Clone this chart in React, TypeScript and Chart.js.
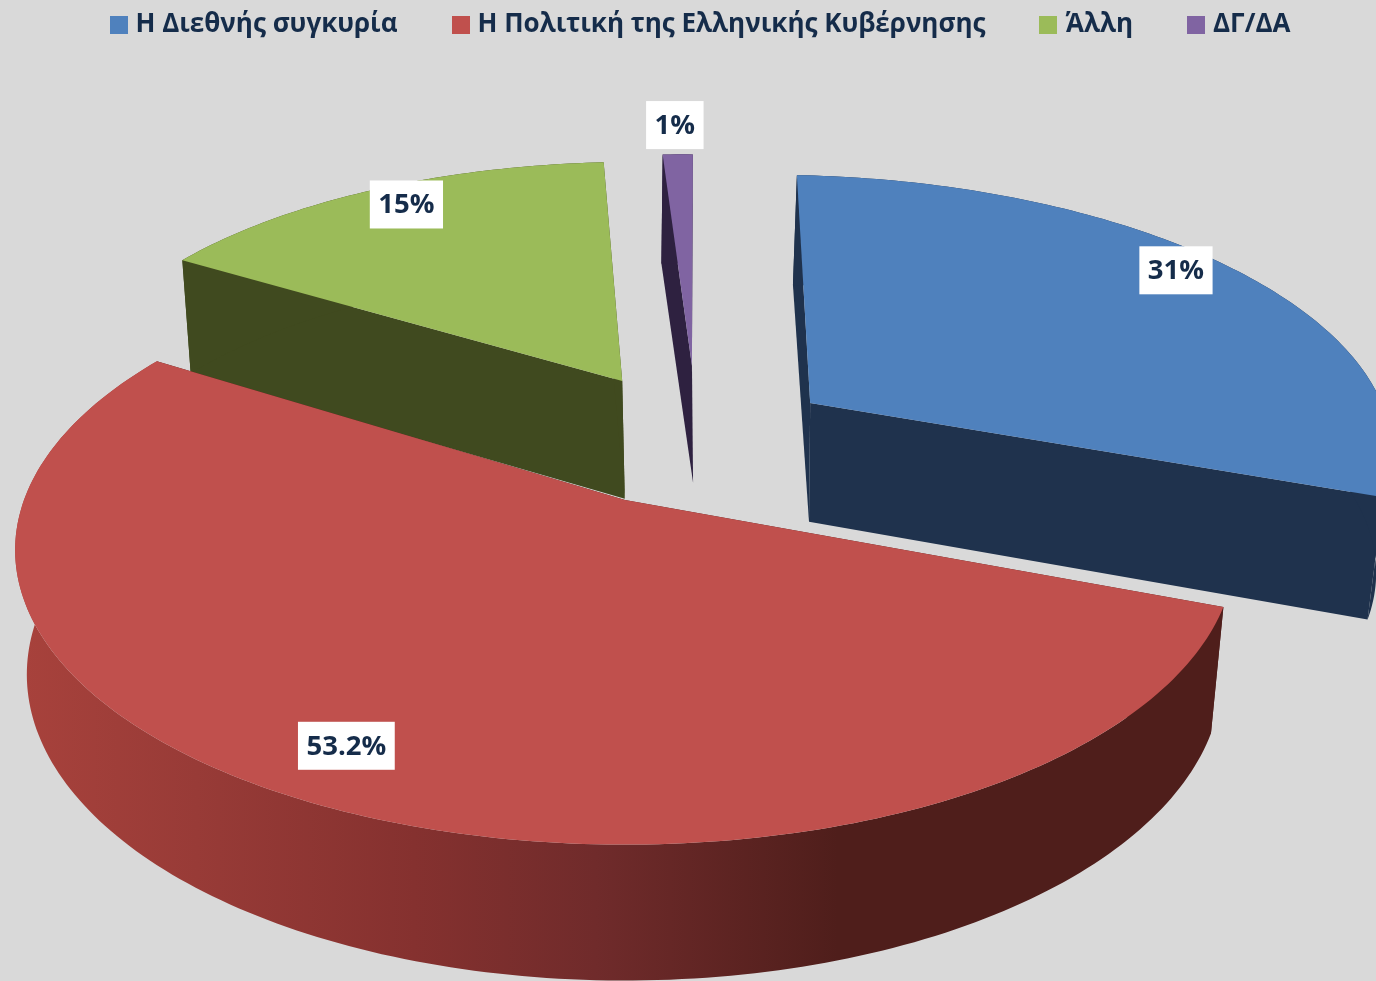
import React, { useEffect, useRef } from "react";
import { Chart, registerables } from "chart.js";

Chart.register(...registerables);

const categories = ["Η Διεθνής συγκυρία", "Η Πολιτική της Ελληνικής Κυβέρνησης", "Άλλη", "ΔΓ/ΔΑ"];
const shares = [31, 53.2, 15, 1];
const shareLabels = ["31%", "53.2%", "15%", "1%"];
const topColors = ["#4f81bd", "#c0504d", "#9bbb59", "#8064a2"];
const wallColors = ["#1f324d", "#4f1e1b", "#404a1f", "#2e2140"];

// 3D look: each slice's pull-out in disk units, small corrections, and its label's polar spot
const pullU = [0.327, 0, -0.005, 0.121];
const pullV = [-0.36, 0, -0.448, -0.511];
const radiusAtStart = [1.048, 1, 1.005, 1.01];
const radiusAtEnd = [1.0, 1, 1.03, 1.01];
const startNudgeDeg = [1, -1.3, -1.2, 0.7];
const endNudgeDeg = [-1.4, -1.1, 0.9, 0.7];
const labelRadius = [0.93, 0.852, 0.916, 1.176];
const labelTurnDeg = [-4, 0.9, 1.6, 0.6];
const paintOrder = [0, 3, 2, 1];

const TEXT = "#152c4a";
const BG = "#d9d9d9";
const FONT = "'Open Sans', sans-serif";
const DEG = Math.PI / 180;

// perspective camera
const CAM = { x: 625, y: 500, rx: 601, ry: 286, p: 0.17 };
const project = (u: number, v: number) => {
  const w = 1 - CAM.p * v;
  return { x: CAM.x + (CAM.rx * u) / w, y: CAM.y + (CAM.ry * v) / w };
};
const lower = (pt: { x: number; y: number }, shiftX = 0) => ({
  x: 600 + (pt.x - 600) * 0.98 + shiftX,
  y: pt.y * 1.039 + 103,
});

const swatch = (color: string) => {
  const c = document.createElement("canvas");
  c.width = 18;
  c.height = 18;
  const g = c.getContext("2d")!;
  g.fillStyle = color;
  g.fillRect(0, 0, 18, 18);
  return c;
};

const pie3d = {
  id: "pie3d",
  beforeDatasetsDraw(chart: any) {
    const { ctx } = chart;
    const arcs = chart.getDatasetMeta(0).data;
    ctx.save();
    for (const i of paintOrder) {
      const props = arcs[i].getProps(["startAngle", "endAngle"], true);
      const startAngle = props.startAngle + startNudgeDeg[i] * DEG;
      const endAngle = props.endAngle + endNudgeDeg[i] * DEG;
      const apex = project(pullU[i], pullV[i]);
      const apexLow = lower(apex, 3);
      const rim: { x: number; y: number }[] = [];
      const steps = Math.max(4, Math.ceil((endAngle - startAngle) / DEG));
      for (let s = 0; s <= steps; s++) {
        const t = s / steps;
        const a = startAngle + (endAngle - startAngle) * t;
        const r = radiusAtStart[i] + (radiusAtEnd[i] - radiusAtStart[i]) * t;
        rim.push(project(pullU[i] + r * Math.cos(a), pullV[i] + r * Math.sin(a)));
      }
      const poly = (pts: { x: number; y: number }[], fill: any) => {
        ctx.beginPath();
        pts.forEach((p, k) => (k ? ctx.lineTo(p.x, p.y) : ctx.moveTo(p.x, p.y)));
        ctx.closePath();
        ctx.fillStyle = fill;
        ctx.fill();
      };
      // walls
      let wall: any = wallColors[i];
      if (i === 1) {
        const g = ctx.createLinearGradient(15, 0, 1225, 0);
        g.addColorStop(0, "#a8423c");
        g.addColorStop(0.15, "#983b37");
        g.addColorStop(0.33, "#85312f");
        g.addColorStop(0.48, "#702b2b");
        g.addColorStop(0.68, "#4f1e1b");
        g.addColorStop(1, "#4f1e1b");
        wall = g;
      }
      poly([apex, rim[0], lower(rim[0]), apexLow], wallColors[i]);
      poly([apex, rim[rim.length - 1], lower(rim[rim.length - 1]), apexLow], wallColors[i]);
      poly([...rim, ...rim.map((p) => lower(p)).reverse()], wall);
      // top
      poly([apex, ...rim], topColors[i]);
    }
    // value boxes
    ctx.font = `bold 27.5px ${FONT}`;
    ctx.textAlign = "center";
    ctx.textBaseline = "middle";
    arcs.forEach((arc: any, i: number) => {
      const { startAngle, endAngle } = arc.getProps(["startAngle", "endAngle"], true);
      const a = (startAngle + endAngle) / 2 + labelTurnDeg[i] * DEG;
      const c = project(pullU[i] + labelRadius[i] * Math.cos(a), pullV[i] + labelRadius[i] * Math.sin(a));
      const w = ctx.measureText(shareLabels[i]).width + 17;
      ctx.fillStyle = "#ffffff";
      ctx.fillRect(c.x - w / 2, c.y - 24, w, 48);
      ctx.fillStyle = TEXT;
      ctx.fillText(shareLabels[i], c.x, c.y + 1);
    });
    ctx.restore();
    return false;
  },
};

export default function App() {
  const ref = useRef<HTMLCanvasElement>(null);
  useEffect(() => {
    document.body.style.margin = "0";
    document.body.style.background = BG;
    document.documentElement.style.overflow = "hidden";
    const swatches = topColors.map(swatch);
    const baseLabels = (Chart as any).overrides.pie.plugins.legend.labels.generateLabels;
    const chart = new Chart(ref.current!, {
      type: "pie",
      data: {
        labels: categories,
        datasets: [{ data: shares, backgroundColor: topColors, borderWidth: 0 }],
      },
      options: {
        responsive: false,
        animation: false,
        rotation: 0.5,
        layout: { padding: { top: -47, left: 29 } },
        plugins: {
          tooltip: { enabled: false },
          legend: {
            position: "top",
            labels: {
              usePointStyle: true,
              pointStyleWidth: 8,
              boxHeight: 18,
              padding: 59,
              color: TEXT,
              font: { family: FONT, size: 26, weight: "bold" },
              generateLabels: (c: any) =>
                baseLabels(c).map((it: any, i: number) => ({ ...it, pointStyle: swatches[i] })),
            },
          },
        },
      },
      plugins: [pie3d],
    } as any);
    return () => chart.destroy();
  }, []);
  return <canvas ref={ref} width={1376} height={981} style={{ display: "block", background: BG }} />;
}
